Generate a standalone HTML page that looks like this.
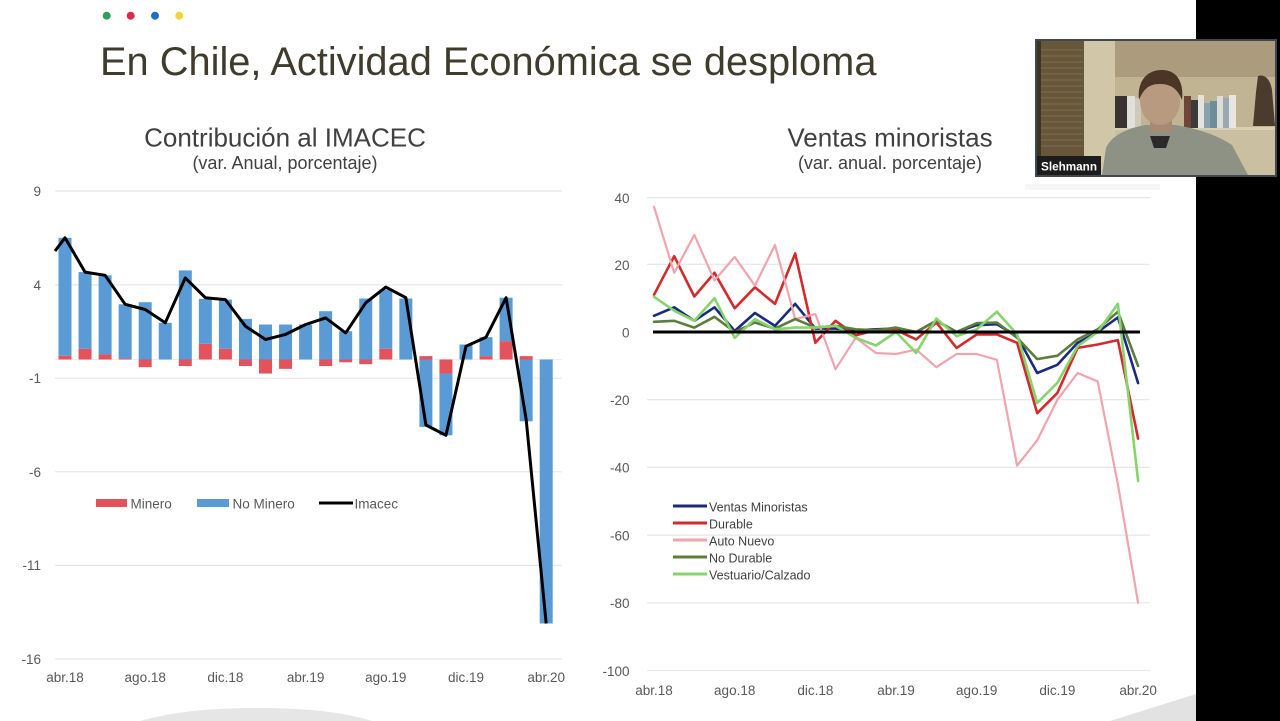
<!DOCTYPE html>
<html>
<head>
<meta charset="utf-8">
<style>
  html,body{margin:0;padding:0;background:#fff;width:1280px;height:721px;overflow:hidden;}
  body{position:relative;font-family:"Liberation Sans",Arial,sans-serif;}
  svg{position:absolute;left:0;top:0;display:block;}
  .tick{font-family:"Liberation Sans",Arial,sans-serif;font-size:13.5px;fill:#595959;}
  .leg{font-family:"Liberation Sans",Arial,sans-serif;font-size:13.5px;fill:#595959;}
  .leg2{font-family:"Liberation Sans",Arial,sans-serif;font-size:12.5px;fill:#404040;}
</style>
</head>
<body>
<svg width="1280" height="721" viewBox="0 0 1280 721" xmlns="http://www.w3.org/2000/svg">
  <rect x="0" y="0" width="1280" height="721" fill="#ffffff"/>

  <!-- bottom decorations (kept inside frame) -->
  <path d="M140,721 C175,711 215,708 257,708 C300,708 340,711 372,721 Z" fill="#e6e6e6"/>
  <polygon points="1110,721 1196,694 1196,721" fill="#e2e2e2"/>

  <!-- dots -->
  <circle cx="106.7" cy="15.7" r="4" fill="#2e9e5a"/>
  <circle cx="130.7" cy="15.7" r="4" fill="#e0294a"/>
  <circle cx="155" cy="15.7" r="4" fill="#1f6fc0"/>
  <circle cx="179.3" cy="15.7" r="4" fill="#f2d43a"/>

  <!-- main title -->
  <text x="100" y="75" font-family="Liberation Sans, Arial, sans-serif" font-size="39.8" fill="#3f3c2e">En Chile, Actividad Económica se desploma</text>

  <!-- chart titles -->
  <text x="285" y="146.5" text-anchor="middle" font-family="Liberation Sans, Arial, sans-serif" font-size="26" fill="#404040">Contribución al IMACEC</text>
  <text x="285" y="169" text-anchor="middle" font-family="Liberation Sans, Arial, sans-serif" font-size="18" fill="#404040">(var. Anual, porcentaje)</text>
  <text x="890" y="146.5" text-anchor="middle" font-family="Liberation Sans, Arial, sans-serif" font-size="26" fill="#404040">Ventas minoristas</text>
  <text x="890" y="169" text-anchor="middle" font-family="Liberation Sans, Arial, sans-serif" font-size="18" fill="#404040">(var. anual. porcentaje)</text>

  <!-- ================= LEFT CHART ================= -->
  <g stroke="#e6e6e6" stroke-width="1.2">
    <line x1="55" y1="191" x2="562" y2="191"/>
    <line x1="55" y1="284.9" x2="562" y2="284.9"/>
    <line x1="55" y1="378.2" x2="562" y2="378.2"/>
    <line x1="55" y1="471.8" x2="562" y2="471.8"/>
    <line x1="55" y1="565.4" x2="562" y2="565.4"/>
    <line x1="55" y1="659" x2="562" y2="659"/>
    <line x1="55" y1="359.5" x2="562" y2="359.5" stroke="#eeeeee"/>
  </g>
  <g class="tick" text-anchor="end">
    <text x="41" y="196">9</text>
    <text x="41" y="290">4</text>
    <text x="41" y="383">-1</text>
    <text x="41" y="477">-6</text>
    <text x="41" y="570">-11</text>
    <text x="41" y="664">-16</text>
  </g>
  <g class="tick" text-anchor="middle">
    <text x="65" y="682">abr.18</text>
    <text x="145.2" y="682">ago.18</text>
    <text x="225.4" y="682">dic.18</text>
    <text x="305.6" y="682">abr.19</text>
    <text x="385.8" y="682">ago.19</text>
    <text x="466" y="682">dic.19</text>
    <text x="546.2" y="682">abr.20</text>
  </g>

  <!-- blue bars (No Minero) -->
  <g fill="#5b9bd5">
    <rect x="58.5" y="237.8" width="13" height="117.96"/>
    <rect x="78.55" y="272.1" width="13" height="76.73"/>
    <rect x="98.6" y="275.3" width="13" height="79.15"/>
    <rect x="118.65" y="304.3" width="13" height="54.26"/>
    <rect x="138.7" y="302.2" width="13" height="57.3"/>
    <rect x="158.75" y="322.8" width="13" height="36.7"/>
    <rect x="178.8" y="270.4" width="13" height="89.1"/>
    <rect x="198.85" y="298.85" width="13" height="44.93"/>
    <rect x="218.9" y="299.6" width="13" height="49.23"/>
    <rect x="238.95" y="318.9" width="13" height="40.6"/>
    <rect x="259" y="324.5" width="13" height="35"/>
    <rect x="279.05" y="324.5" width="13" height="35"/>
    <rect x="299.1" y="324.5" width="13" height="35"/>
    <rect x="319.15" y="311.2" width="13" height="48.3"/>
    <rect x="339.2" y="331.2" width="13" height="28.3"/>
    <rect x="359.25" y="298.5" width="13" height="61"/>
    <rect x="379.3" y="289.5" width="13" height="59.33"/>
    <rect x="399.35" y="298.5" width="13" height="61"/>
    <rect x="419.4" y="359.5" width="13" height="67.4"/>
    <rect x="439.45" y="373.54" width="13" height="61.78"/>
    <rect x="459.5" y="344.5" width="13" height="15"/>
    <rect x="479.55" y="337.2" width="13" height="18.93"/>
    <rect x="499.6" y="297.7" width="13" height="43.45"/>
    <rect x="519.65" y="359.5" width="13" height="61.8"/>
    <rect x="539.7" y="359.5" width="13" height="264"/>
  </g>
  <!-- red bars (Minero) -->
  <g fill="#e4535b">
    <rect x="58.5" y="355.76" width="13" height="3.74"/>
    <rect x="78.55" y="348.83" width="13" height="10.67"/>
    <rect x="98.6" y="354.45" width="13" height="5.05"/>
    <rect x="118.65" y="358.56" width="13" height="0.94"/>
    <rect x="138.7" y="359.5" width="13" height="7.68"/>
    <rect x="178.8" y="359.5" width="13" height="6.55"/>
    <rect x="198.85" y="343.78" width="13" height="15.72"/>
    <rect x="218.9" y="348.83" width="13" height="10.67"/>
    <rect x="238.95" y="359.5" width="13" height="6.55"/>
    <rect x="259" y="359.5" width="13" height="14.04"/>
    <rect x="279.05" y="359.5" width="13" height="9.36"/>
    <rect x="319.15" y="359.5" width="13" height="6.55"/>
    <rect x="339.2" y="359.5" width="13" height="2.81"/>
    <rect x="359.25" y="359.5" width="13" height="4.68"/>
    <rect x="379.3" y="348.83" width="13" height="10.67"/>
    <rect x="419.4" y="356.13" width="13" height="3.37"/>
    <rect x="439.45" y="359.5" width="13" height="14.04"/>
    <rect x="479.55" y="356.13" width="13" height="3.37"/>
    <rect x="499.6" y="341.15" width="13" height="18.35"/>
    <rect x="519.65" y="356.13" width="13" height="3.37"/>
  </g>
  <!-- Imacec line -->
  <polyline fill="none" stroke="#000" stroke-width="3" stroke-linejoin="round"
    points="55,251 65,237.8 85.05,272.1 105.1,275.3 125.15,304.3 145.2,309.5 165.25,322.8 185.3,277.9 205.35,297.7 225.4,299.6 245.45,326.2 265.5,339.5 285.55,334.4 305.6,324.5 325.65,317.9 345.7,332.9 365.75,302.8 385.8,287.1 405.85,297.7 425.9,425 445.95,435.3 466,346.2 486.05,337.2 506.1,297.7 526.15,419.4 546.2,623.5"/>

  <!-- left legend -->
  <rect x="96" y="499" width="31" height="8" fill="#e4535b"/>
  <text class="leg" x="130.5" y="508.5">Minero</text>
  <rect x="197" y="499" width="32" height="8" fill="#5b9bd5"/>
  <text class="leg" x="232.5" y="508.5">No Minero</text>
  <line x1="319" y1="503" x2="353" y2="503" stroke="#000" stroke-width="3"/>
  <text class="leg" x="354.5" y="508.5">Imacec</text>

  <!-- ================= RIGHT CHART ================= -->
  <g stroke="#e6e6e6" stroke-width="1.2">
    <line x1="647" y1="197.6" x2="1150" y2="197.6"/>
    <line x1="647" y1="264.3" x2="1150" y2="264.3"/>
    <line x1="647" y1="399.7" x2="1150" y2="399.7"/>
    <line x1="647" y1="467.4" x2="1150" y2="467.4"/>
    <line x1="647" y1="535.1" x2="1150" y2="535.1"/>
    <line x1="647" y1="602.8" x2="1150" y2="602.8"/>
    <line x1="647" y1="670.5" x2="1150" y2="670.5"/>
  </g>
  <g class="tick" text-anchor="end">
    <text x="629.5" y="203">40</text>
    <text x="629.5" y="270">20</text>
    <text x="629.5" y="337.5">0</text>
    <text x="629.5" y="405">-20</text>
    <text x="629.5" y="472.5">-40</text>
    <text x="629.5" y="540.5">-60</text>
    <text x="629.5" y="608">-80</text>
    <text x="629.5" y="676">-100</text>
  </g>
  <g class="tick" text-anchor="middle">
    <text x="654" y="695">abr.18</text>
    <text x="734.7" y="695">ago.18</text>
    <text x="815.4" y="695">dic.18</text>
    <text x="896" y="695">abr.19</text>
    <text x="976.7" y="695">ago.19</text>
    <text x="1057.4" y="695">dic.19</text>
    <text x="1138.1" y="695">abr.20</text>
  </g>

  <g fill="none" stroke-linejoin="round" stroke-linecap="round">
    <!-- Ventas Minoristas -->
    <polyline stroke="#1b2a7e" stroke-width="2.6"
      points="654,315.8 674.2,307.3 694.3,320.8 714.5,307.3 734.7,331 754.9,313 775,325.9 795.2,303.9 815.4,328.6 835.5,328.6 855.7,330.3 875.9,329.3 896,328.6 916.2,332 936.4,320.8 956.6,332 976.7,325.2 996.9,324.2 1017.1,336.1 1037.2,373 1057.4,364.8 1077.6,342.8 1097.7,332 1117.9,317.4 1138.1,383.1"/>
    <!-- Durable -->
    <polyline stroke="#d42a2c" stroke-width="2.6"
      points="654,294.8 674.2,256.2 694.3,296.5 714.5,272.8 734.7,308.3 754.9,287.3 775,303.9 795.2,253.5 815.4,342.8 835.5,320.8 855.7,335.4 875.9,330 896,330 916.2,339.4 936.4,322.5 956.6,347.9 976.7,334.4 996.9,334.4 1017.1,342.8 1037.2,413.2 1057.4,392.9 1077.6,347.9 1097.7,344.5 1117.9,340.1 1138.1,438.6"/>
    <!-- Auto Nuevo -->
    <polyline stroke="#f0a4ad" stroke-width="2.2"
      points="654,206.8 674.2,272.8 694.3,234.9 714.5,280.5 734.7,256.9 754.9,285.6 775,245 795.2,319.1 815.4,314.1 835.5,369.2 855.7,337.8 875.9,353 896,354 916.2,349.6 936.4,367.2 956.6,354 976.7,354 996.9,359.8 1017.1,465.7 1037.2,440.3 1057.4,399.7 1077.6,373 1097.7,381.4 1117.9,484.3 1138.1,602.8"/>
    <!-- No Durable -->
    <polyline stroke="#5c7d3c" stroke-width="2.6"
      points="654,321.8 674.2,320.8 694.3,327.6 714.5,316.8 734.7,332 754.9,322.5 775,328.6 795.2,319.1 815.4,327.6 835.5,325.9 855.7,329.3 875.9,330.3 896,327.6 916.2,332 936.4,320.8 956.6,332 976.7,323.2 996.9,322.5 1017.1,337.8 1037.2,359.1 1057.4,355.7 1077.6,339.4 1097.7,329.3 1117.9,311.7 1138.1,365.9"/>
    <!-- Vestuario/Calzado -->
    <polyline stroke="#86d46c" stroke-width="2.6"
      points="654,296.8 674.2,310.7 694.3,320.8 714.5,298.2 734.7,337.8 754.9,319.1 775,329.3 795.2,327.6 815.4,327.6 835.5,325.9 855.7,337.8 875.9,345.5 896,332 916.2,353 936.4,318.5 956.6,336.1 976.7,329.3 996.9,311.7 1017.1,334.4 1037.2,403.1 1057.4,382.8 1077.6,346.2 1097.7,332 1117.9,303.9 1138.1,480.9"/>
  </g>
  <!-- zero line -->
  <line x1="653" y1="332" x2="1140" y2="332" stroke="#000" stroke-width="3"/>

  <!-- right legend -->
  <g stroke-width="3">
    <line x1="673" y1="506" x2="707" y2="506" stroke="#1b2a7e"/>
    <line x1="673" y1="523" x2="707" y2="523" stroke="#d42a2c"/>
    <line x1="673" y1="540" x2="707" y2="540" stroke="#f0a4ad"/>
    <line x1="673" y1="557" x2="707" y2="557" stroke="#5c7d3c"/>
    <line x1="673" y1="574" x2="707" y2="574" stroke="#86d46c"/>
  </g>
  <g class="leg2">
    <text x="709" y="511.5">Ventas Minoristas</text>
    <text x="709" y="528.5">Durable</text>
    <text x="709" y="545.5">Auto Nuevo</text>
    <text x="709" y="562.5">No Durable</text>
    <text x="709" y="579.5">Vestuario/Calzado</text>
  </g>

  <!-- ================= RIGHT BLACK BAR ================= -->
  <rect x="1196" y="0" width="84" height="721" fill="#000"/>

  <!-- webcam faint shadow -->
  <rect x="1025" y="184" width="135" height="6" fill="#f6f6f6"/>

  <!-- ================= WEBCAM ================= -->
  <rect x="1035" y="39" width="242" height="138" fill="#3c4852"/>
  <rect x="1037" y="41" width="238" height="134" fill="#c6ba9a"/>
  <!-- blinds -->
  <rect x="1037" y="41" width="47" height="115" fill="#66573a"/>
  <g stroke="#7d6c4a" stroke-width="1">
    <line x1="1040" y1="50" x2="1083" y2="50"/><line x1="1040" y1="56" x2="1083" y2="56"/>
    <line x1="1040" y1="62" x2="1083" y2="62"/><line x1="1040" y1="68" x2="1083" y2="68"/>
    <line x1="1040" y1="74" x2="1083" y2="74"/><line x1="1040" y1="80" x2="1083" y2="80"/>
    <line x1="1040" y1="86" x2="1083" y2="86"/><line x1="1040" y1="92" x2="1083" y2="92"/>
    <line x1="1040" y1="98" x2="1083" y2="98"/><line x1="1040" y1="104" x2="1083" y2="104"/>
    <line x1="1040" y1="110" x2="1083" y2="110"/><line x1="1040" y1="116" x2="1083" y2="116"/>
    <line x1="1040" y1="122" x2="1083" y2="122"/><line x1="1040" y1="128" x2="1083" y2="128"/>
    <line x1="1040" y1="134" x2="1083" y2="134"/><line x1="1040" y1="140" x2="1083" y2="140"/>
    <line x1="1040" y1="146" x2="1083" y2="146"/>
  </g>
  <rect x="1037" y="41" width="4" height="115" fill="#3e3424"/>
  <!-- wall column -->
  <rect x="1084" y="41" width="31" height="134" fill="#d1c7a8"/>
  <!-- nook -->
  <rect x="1115" y="41" width="160" height="36" fill="#ab9c7d"/>
  <rect x="1115" y="77" width="160" height="51" fill="#c1b493"/>
  <rect x="1115" y="127" width="160" height="3" fill="#d8ceb2"/>
  <rect x="1115" y="130" width="160" height="45" fill="#cabfa0"/>
  <!-- books -->
  <rect x="1115" y="96" width="12" height="32" fill="#3b3232"/>
  <rect x="1127" y="96" width="8" height="32" fill="#e2e0da"/>
  <rect x="1135" y="98" width="6" height="30" fill="#cfc8bb"/>
  <rect x="1184" y="96" width="7" height="32" fill="#6e4538"/>
  <rect x="1191" y="100" width="7" height="28" fill="#3a3a3a"/>
  <rect x="1198" y="95" width="6" height="33" fill="#e4e2dc"/>
  <rect x="1204" y="103" width="6" height="25" fill="#8aa2b0"/>
  <rect x="1210" y="101" width="7" height="27" fill="#6e8d9a"/>
  <rect x="1217" y="96" width="6" height="32" fill="#dedcd6"/>
  <rect x="1223" y="98" width="6" height="30" fill="#9aa8b0"/>
  <rect x="1229" y="95" width="7" height="33" fill="#e8e6e0"/>
  <!-- statue -->
  <path d="M1258,76 C1264,74 1270,78 1272,90 L1275,126 L1253,126 L1256,92 Z" fill="#4a3b2c"/>
  <!-- person: shirt -->
  <path d="M1102,175 L1106,148 C1112,134 1130,128 1145,125 L1175,125 C1195,128 1215,134 1232,145 L1248,175 Z" fill="#8e9284"/>
  <path d="M1150,136 L1170,136 L1166,148 L1154,148 Z" fill="#2a2a2a"/>
  <!-- neck -->
  <rect x="1150" y="116" width="22" height="16" fill="#a88a72"/>
  <!-- head -->
  <ellipse cx="1160" cy="101" rx="20" ry="24" fill="#b89a80"/>
  <path d="M1139,100 C1137,82 1146,70 1162,70 C1178,70 1184,84 1182,100 C1178,90 1172,84 1160,84 C1148,84 1143,90 1139,100 Z" fill="#4a3526"/>
  <!-- name label -->
  <rect x="1037" y="156" width="64" height="19" fill="#1c1c1c"/>
  <text x="1041" y="170.5" font-family="Liberation Sans, Arial, sans-serif" font-size="12" font-weight="bold" fill="#ffffff" textLength="56" lengthAdjust="spacingAndGlyphs">Slehmann</text>
</svg>
</body>
</html>
